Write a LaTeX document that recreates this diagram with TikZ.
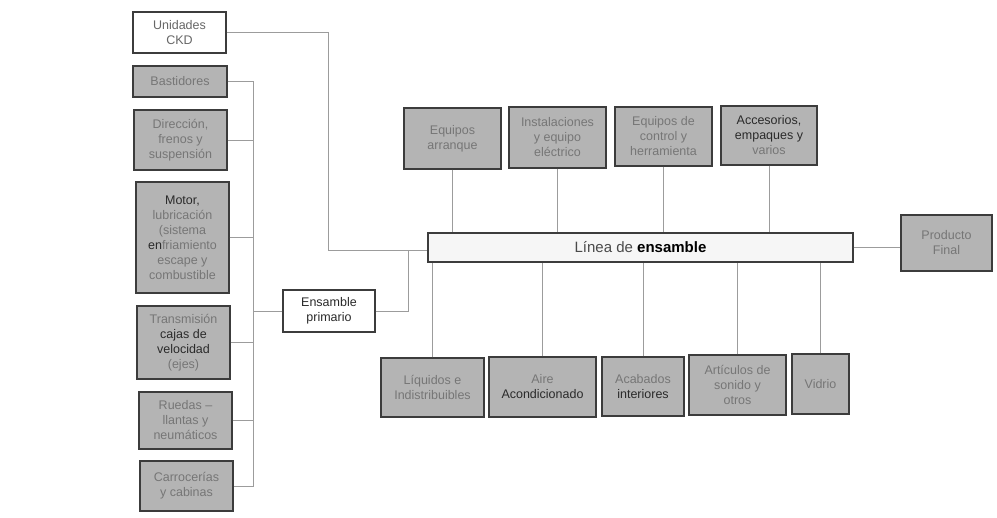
\documentclass[tikz,border=0pt]{standalone}
\usepackage{fontspec}
\setmainfont{Liberation Sans}
\definecolor{boxfill}{HTML}{B4B4B4}
\definecolor{boxedge}{HTML}{3C3C3C}
\definecolor{txt}{HTML}{767676}
\definecolor{dk}{HTML}{2A2A2A}
\definecolor{wire}{HTML}{9C9C9C}
\definecolor{lightfill}{HTML}{F6F6F6}
\begin{document}
\begin{tikzpicture}[x=1pt,y=-1pt,
  box/.style={draw=boxedge,line width=1.1pt,fill=boxfill,text=txt,align=center,inner sep=0pt,
    font=\fontsize{12.5}{15}\selectfont},
  wbox/.style={box,fill=white},
  wire/.style={draw=wire,line width=0.8pt}]
\useasboundingbox (0,0) rectangle (997,518);
% left column
\node[wbox,minimum width=93pt,minimum height=41pt,text=black!60] (ckd) at (179.5,32.5) {Unidades\\CKD};
\node[box,minimum width=94pt,minimum height=31pt] (bast) at (180,81.5) {Bastidores};
\node[box,minimum width=93pt,minimum height=60pt] (dir) at (180.5,140) {Dirección,\\frenos y\\suspensión};
\node[box,minimum width=93pt,minimum height=111pt] (motor) at (182.5,237.5) {{\color{dk}Motor,}\\lubricación\\(sistema\\{\color{dk}en}friamiento\\escape y\\combustible};
\node[box,minimum width=93pt,minimum height=73pt] (trans) at (183.5,342.5) {Transmisión\\{\color{dk}cajas de}\\{\color{dk}velocidad}\\(ejes)};
\node[box,minimum width=93pt,minimum height=57pt] (ruedas) at (185.5,420.5) {Ruedas –\\llantas y\\neumáticos};
\node[box,minimum width=93pt,minimum height=50pt] (carr) at (186.5,486) {Carrocerías\\y cabinas};
% ensamble primario
\node[wbox,minimum width=92pt,minimum height=42pt,text=dk] (ens) at (329,311) {Ensamble\\primario};
% linea
\node[wbox,fill=lightfill,minimum width=425pt,minimum height=29pt,font=\fontsize{15}{17}\selectfont] (linea) at (640.5,247.5) {{\color{dk!85}Línea de} {\color{black}\bfseries ensamble}};
\node[box,minimum width=91pt,minimum height=56pt] (prod) at (946.5,243) {Producto\\Final};
% top boxes
\node[box,minimum width=97pt,minimum height=61pt] (arr) at (452.5,138.5) {Equipos\\arranque};
\node[box,minimum width=97pt,minimum height=61pt] (inst) at (557.5,137.5) {Instalaciones\\y equipo\\eléctrico};
\node[box,minimum width=97pt,minimum height=59pt] (ctrl) at (663.5,136.5) {Equipos de\\control y\\herramienta};
\node[box,minimum width=96pt,minimum height=59pt] (acc) at (769,135.5) {{\color{dk}Accesorios,}\\{\color{dk}empaques y}\\varios};
% bottom boxes
\node[box,minimum width=103pt,minimum height=59pt] (liq) at (432.5,387.5) {Líquidos e\\Indistribuibles};
\node[box,minimum width=107pt,minimum height=60pt] (aire) at (542.5,387) {Aire\\{\color{dk}Acondicionado}};
\node[box,minimum width=82pt,minimum height=59pt] (acab) at (643,386.5) {Acabados\\{\color{dk}interiores}};
\node[box,minimum width=97pt,minimum height=60pt] (art) at (737.5,385) {Artículos de\\sonido y\\otros};
\node[box,minimum width=57pt,minimum height=60pt] (vid) at (820.5,384) {Vidrio};
% junctions
\coordinate (jA) at (328,250);
\coordinate (jB) at (408,250);
\coordinate (busT) at (253,81.5);
\coordinate (busB) at (253,486);
% connectors
\draw[wire] (ckd.east) -| (jA) -- (linea.west |- jA);
\draw[wire] (ens.east) -| (jB);
\draw[wire] (bast.east) -- (busT) -- (busB) -- (carr.east);
\foreach \n in {dir,motor,trans,ruedas}
  \draw[wire] (\n.east) -- (\n.east -| busT);
\draw[wire] (ens.west) -- (ens.west -| busT);
\foreach \n in {arr,inst,ctrl,acc}
  \draw[wire] (\n.south) -- (\n.south |- linea.north);
\foreach \n in {liq,aire,acab,art,vid}
  \draw[wire] (\n.north) -- (\n.north |- linea.south);
\draw[wire] (linea.east) -- (linea.east -| prod.west);
\end{tikzpicture}
\end{document}
